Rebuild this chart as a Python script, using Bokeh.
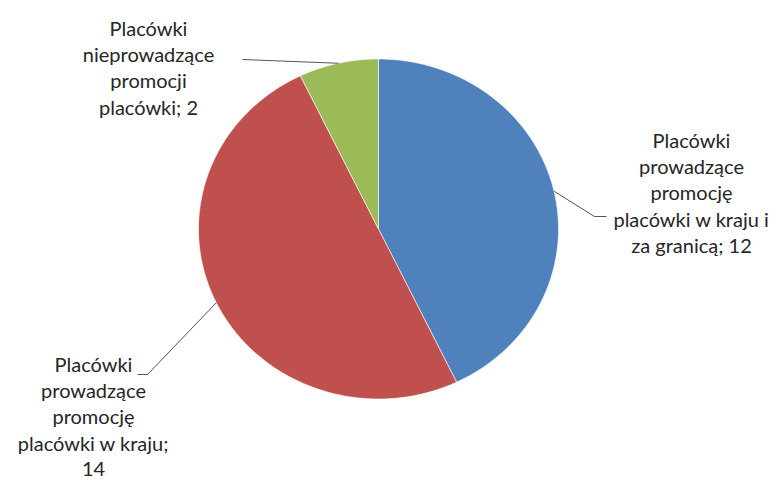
import numpy as np
from bokeh.plotting import figure
from bokeh.models import Range1d, ColumnDataSource
from bokeh.core.properties import value
from bokeh.embed import file_html
from bokeh.resources import INLINE

# ---- data ----
categories = [
    "Placówki prowadzące promocję placówki w kraju i za granicą",
    "Placówki prowadzące promocję placówki w kraju",
    "Placówki nieprowadzące promocji placówki",
]
counts = [12, 14, 2]
colors = ["#4F81BD", "#C0504D", "#9BBB59"]
label_lines = [
    ["Placówki", "prowadzące", "promocję", "placówki w kraju i", "za granicą; 12"],
    ["Placówki", "prowadzące", "promocję", "placówki w kraju;", "14"],
    ["Placówki", "nieprowadzące", "promocji", "placówki; 2"],
]

# ---- layout (screen pixels, y down) ----
W, H = 776, 480
CX, CY = 378.0, 228.5
RX, RY = 180.0, 170.0
label_centers = [(691, 139), (93, 363), (148, 27)]
line_step = 26.4
# leader elbow points (screen px): [bend, end]
leader_elbows = [[(594, 216), (606, 216)], [(147, 374), (137, 374)], [(242, 59), (242, 59)]]

p = figure(width=W, height=H, output_backend="svg", toolbar_location=None,
           x_range=Range1d(0, W), y_range=Range1d(H, 0), min_border=0)
p.axis.visible = False
p.grid.visible = False
p.outline_line_color = None
p.background_fill_color = "white"
p.border_fill_color = "white"

total = float(sum(counts))
fracs = np.array(counts) / total
ends = np.cumsum(fracs) * 2 * np.pi
starts = ends - fracs * 2 * np.pi

def pt(theta, k=1.0):
    # angle measured clockwise from top
    return CX + k * RX * np.sin(theta), CY - k * RY * np.cos(theta)

xs, ys = [], []
for s, e in zip(starts, ends):
    t = np.linspace(s, e, 200)
    px, py = pt(t)
    xs.append([CX] + list(px) + [CX])
    ys.append([CY] + list(py) + [CY])

src = ColumnDataSource(dict(xs=xs, ys=ys, color=colors, name=categories, count=counts))
p.patches("xs", "ys", source=src, fill_color="color", line_color="white", line_width=0.6)

# leader lines
for i, (s, e) in enumerate(zip(starts, ends)):
    mid = (s + e) / 2
    x0, y0 = pt(mid)
    lx = [x0] + [q[0] for q in leader_elbows[i]]
    ly = [y0] + [q[1] for q in leader_elbows[i]]
    p.line(lx, ly, line_color="#555555", line_width=1)

# labels
tx, ty, tt = [], [], []
for (cx, cy), lines in zip(label_centers, label_lines):
    for j, ln in enumerate(lines):
        tx.append(cx)
        ty.append(cy + j * line_step)
        tt.append(ln)
p.text(tx, ty, text=tt, text_align="center", text_baseline="middle",
       text_font=value("Lato"), text_font_size="20px", text_color="#262626")

open("out.html", "w").write(file_html(p, INLINE))
